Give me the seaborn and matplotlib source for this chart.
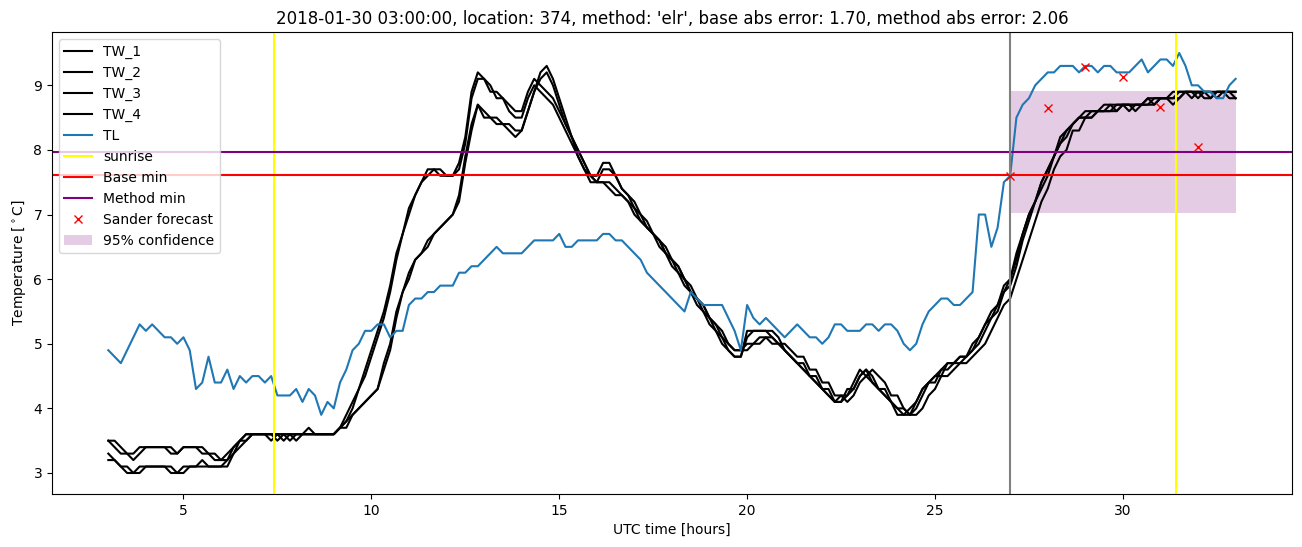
import numpy as np
import pandas as pd
import matplotlib
matplotlib.use("Agg")
import matplotlib.pyplot as plt
import seaborn as sns

# ---------------- data (10-minute samples from 03:00 to 33:00 UTC hours) ----------------
start_hour = 3.0
step_hours = 1 / 6

TL = [
    4.9, 4.8, 4.7, 4.9, 5.1, 5.3,
    5.2, 5.3, 5.2, 5.1, 5.1, 5.0,
    5.1, 4.9, 4.3, 4.4, 4.8, 4.4,
    4.4, 4.6, 4.3, 4.5, 4.4, 4.5,
    4.5, 4.4, 4.5, 4.2, 4.2, 4.2,
    4.3, 4.1, 4.3, 4.2, 3.9, 4.1,
    4.0, 4.4, 4.6, 4.9, 5.0, 5.2,
    5.2, 5.3, 5.3, 5.1, 5.2, 5.2,
    5.6, 5.7, 5.7, 5.8, 5.8, 5.9,
    5.9, 5.9, 6.1, 6.1, 6.2, 6.2,
    6.3, 6.4, 6.5, 6.4, 6.4, 6.4,
    6.4, 6.5, 6.6, 6.6, 6.6, 6.6,
    6.7, 6.5, 6.5, 6.6, 6.6, 6.6,
    6.6, 6.7, 6.7, 6.6, 6.6, 6.5,
    6.4, 6.3, 6.1, 6.0, 5.9, 5.8,
    5.7, 5.6, 5.5, 5.8, 5.7, 5.6,
    5.6, 5.6, 5.6, 5.4, 5.2, 4.9,
    5.6, 5.4, 5.3, 5.4, 5.3, 5.2,
    5.1, 5.2, 5.3, 5.2, 5.1, 5.1,
    5.0, 5.1, 5.3, 5.3, 5.2, 5.2,
    5.2, 5.3, 5.3, 5.2, 5.3, 5.3,
    5.2, 5.0, 4.9, 5.0, 5.3, 5.5,
    5.6, 5.7, 5.7, 5.6, 5.6, 5.7,
    5.8, 7.0, 7.0, 6.5, 6.8, 7.5,
    7.6, 8.5, 8.7, 8.8, 9.0, 9.1,
    9.2, 9.2, 9.3, 9.3, 9.3, 9.2,
    9.3, 9.3, 9.2, 9.3, 9.3, 9.2,
    9.2, 9.2, 9.3, 9.4, 9.2, 9.3,
    9.4, 9.4, 9.3, 9.5, 9.3, 9.0,
    9.0, 8.9, 8.9, 8.8, 8.8, 9.0,
    9.1,
]

TW_1 = [
    3.5, 3.4, 3.3, 3.3, 3.2, 3.3,
    3.4, 3.4, 3.4, 3.4, 3.3, 3.3,
    3.4, 3.4, 3.4, 3.3, 3.3, 3.2,
    3.2, 3.3, 3.4, 3.5, 3.6, 3.6,
    3.6, 3.6, 3.5, 3.6, 3.6, 3.5,
    3.6, 3.6, 3.6, 3.6, 3.6, 3.6,
    3.6, 3.7, 3.9, 4.1, 4.3, 4.6,
    4.9, 5.2, 5.5, 5.9, 6.4, 6.7,
    7.1, 7.3, 7.5, 7.7, 7.7, 7.6,
    7.6, 7.6, 7.8, 8.2, 8.9, 9.2,
    9.1, 8.9, 8.9, 8.8, 8.7, 8.6,
    8.6, 8.9, 9.1, 9.0, 8.9, 8.8,
    8.6, 8.4, 8.2, 8.0, 7.8, 7.6,
    7.5, 7.5, 7.4, 7.3, 7.3, 7.2,
    7.0, 6.9, 6.8, 6.7, 6.5, 6.4,
    6.2, 6.1, 5.9, 5.8, 5.6, 5.5,
    5.3, 5.2, 5.0, 4.9, 4.8, 4.8,
    5.2, 5.2, 5.2, 5.2, 5.1, 5.0,
    4.9, 4.8, 4.7, 4.6, 4.5, 4.4,
    4.3, 4.2, 4.1, 4.2, 4.2, 4.4,
    4.6, 4.5, 4.4, 4.3, 4.2, 4.1,
    4.0, 3.9, 3.9, 4.1, 4.3, 4.4,
    4.5, 4.6, 4.7, 4.7, 4.8, 4.8,
    4.9, 5.1, 5.3, 5.4, 5.6, 5.8,
    6.0, 6.3, 6.7, 7.0, 7.2, 7.5,
    7.7, 7.9, 8.1, 8.3, 8.4, 8.5,
    8.5, 8.6, 8.6, 8.6, 8.7, 8.7,
    8.7, 8.7, 8.7, 8.7, 8.8, 8.8,
    8.8, 8.8, 8.9, 8.9, 8.9, 8.9,
    8.9, 8.9, 8.9, 8.9, 8.9, 8.9,
    8.9,
]

TW_2 = [
    3.5, 3.5, 3.4, 3.3, 3.3, 3.4,
    3.4, 3.4, 3.4, 3.4, 3.4, 3.3,
    3.4, 3.4, 3.4, 3.4, 3.3, 3.3,
    3.2, 3.2, 3.3, 3.5, 3.5, 3.6,
    3.6, 3.6, 3.6, 3.5, 3.6, 3.6,
    3.5, 3.6, 3.6, 3.6, 3.6, 3.6,
    3.6, 3.7, 3.8, 4.0, 4.3, 4.5,
    4.8, 5.1, 5.4, 5.8, 6.3, 6.7,
    7.0, 7.3, 7.5, 7.6, 7.7, 7.7,
    7.6, 7.6, 7.7, 8.1, 8.8, 9.1,
    9.1, 9.0, 8.8, 8.8, 8.6, 8.5,
    8.5, 8.8, 9.0, 8.9, 8.8, 8.7,
    8.5, 8.3, 8.1, 7.9, 7.7, 7.6,
    7.5, 7.5, 7.5, 7.4, 7.3, 7.2,
    7.1, 6.9, 6.8, 6.7, 6.6, 6.4,
    6.3, 6.1, 6.0, 5.8, 5.7, 5.5,
    5.4, 5.2, 5.1, 4.9, 4.8, 4.8,
    5.1, 5.2, 5.2, 5.2, 5.2, 5.1,
    4.9, 4.8, 4.7, 4.7, 4.5, 4.5,
    4.3, 4.3, 4.1, 4.1, 4.3, 4.3,
    4.5, 4.6, 4.5, 4.3, 4.3, 4.1,
    4.0, 4.0, 3.9, 4.0, 4.2, 4.4,
    4.5, 4.5, 4.7, 4.7, 4.7, 4.8,
    4.9, 5.0, 5.2, 5.4, 5.5, 5.8,
    5.9, 6.2, 6.6, 6.9, 7.2, 7.4,
    7.6, 7.9, 8.1, 8.2, 8.4, 8.5,
    8.5, 8.5, 8.6, 8.6, 8.6, 8.7,
    8.7, 8.6, 8.7, 8.7, 8.8, 8.7,
    8.8, 8.8, 8.8, 8.9, 8.9, 8.8,
    8.9, 8.9, 8.8, 8.9, 8.9, 8.8,
    8.8,
]

TW_3 = [
    3.3, 3.2, 3.1, 3.0, 3.0, 3.1,
    3.1, 3.1, 3.1, 3.1, 3.0, 3.0,
    3.1, 3.1, 3.1, 3.2, 3.1, 3.1,
    3.1, 3.2, 3.4, 3.5, 3.6, 3.6,
    3.6, 3.6, 3.6, 3.6, 3.6, 3.6,
    3.6, 3.6, 3.7, 3.6, 3.6, 3.6,
    3.6, 3.7, 3.8, 3.9, 4.0, 4.1,
    4.2, 4.3, 4.7, 5.0, 5.5, 5.8,
    6.1, 6.3, 6.4, 6.6, 6.7, 6.8,
    6.9, 7.0, 7.3, 7.9, 8.4, 8.7,
    8.6, 8.5, 8.5, 8.4, 8.3, 8.2,
    8.3, 8.6, 8.9, 9.2, 9.3, 9.1,
    8.8, 8.5, 8.2, 8.0, 7.8, 7.6,
    7.6, 7.8, 7.8, 7.6, 7.4, 7.3,
    7.1, 7.0, 6.8, 6.7, 6.6, 6.4,
    6.3, 6.2, 6.0, 5.8, 5.7, 5.6,
    5.4, 5.3, 5.2, 5.0, 4.9, 4.9,
    5.0, 5.0, 5.1, 5.1, 5.0, 5.0,
    4.9, 4.8, 4.7, 4.6, 4.5, 4.4,
    4.3, 4.2, 4.1, 4.1, 4.2, 4.3,
    4.5, 4.6, 4.4, 4.3, 4.2, 4.1,
    3.9, 3.9, 4.0, 4.1, 4.3, 4.4,
    4.4, 4.6, 4.6, 4.7, 4.8, 4.8,
    5.0, 5.1, 5.3, 5.5, 5.6, 5.9,
    6.0, 6.4, 6.7, 7.0, 7.2, 7.5,
    7.7, 7.9, 8.2, 8.3, 8.4, 8.5,
    8.6, 8.6, 8.6, 8.7, 8.7, 8.6,
    8.7, 8.7, 8.6, 8.7, 8.7, 8.8,
    8.8, 8.8, 8.8, 8.8, 8.9, 8.9,
    8.8, 8.9, 8.9, 8.8, 8.9, 8.9,
    8.8,
]

TW_4 = [
    3.2, 3.2, 3.1, 3.1, 3.0, 3.0,
    3.1, 3.1, 3.1, 3.1, 3.1, 3.0,
    3.0, 3.1, 3.1, 3.1, 3.1, 3.1,
    3.1, 3.1, 3.3, 3.4, 3.5, 3.6,
    3.6, 3.6, 3.6, 3.6, 3.5, 3.6,
    3.6, 3.6, 3.6, 3.6, 3.6, 3.6,
    3.6, 3.7, 3.7, 3.9, 4.0, 4.1,
    4.2, 4.3, 4.6, 4.9, 5.4, 5.8,
    6.0, 6.3, 6.4, 6.5, 6.7, 6.8,
    6.9, 7.0, 7.2, 7.8, 8.3, 8.7,
    8.5, 8.5, 8.4, 8.4, 8.4, 8.3,
    8.3, 8.6, 8.9, 9.1, 9.2, 9.0,
    8.7, 8.4, 8.2, 7.9, 7.7, 7.5,
    7.5, 7.7, 7.7, 7.6, 7.4, 7.3,
    7.2, 7.0, 6.9, 6.7, 6.6, 6.5,
    6.3, 6.2, 6.0, 5.9, 5.7, 5.6,
    5.4, 5.3, 5.1, 5.0, 4.9, 4.9,
    4.9, 5.0, 5.0, 5.1, 5.1, 5.0,
    5.0, 4.9, 4.8, 4.8, 4.6, 4.6,
    4.4, 4.4, 4.2, 4.2, 4.1, 4.2,
    4.4, 4.5, 4.6, 4.5, 4.4, 4.2,
    4.2, 4.0, 3.9, 3.9, 4.0, 4.2,
    4.3, 4.5, 4.5, 4.6, 4.7, 4.7,
    4.8, 4.9, 5.0, 5.2, 5.4, 5.6,
    5.7, 6.0, 6.3, 6.6, 6.9, 7.2,
    7.4, 7.7, 7.9, 8.0, 8.3, 8.3,
    8.5, 8.5, 8.6, 8.6, 8.6, 8.6,
    8.7, 8.7, 8.7, 8.7, 8.7, 8.7,
    8.8, 8.8, 8.7, 8.8, 8.9, 8.9,
    8.9, 8.8, 8.8, 8.9, 8.9, 8.9,
    8.9,
]

sunrise_hours = [7.42, 31.41]
forecast_start = 27.0
base_min = 7.61
method_min = 7.97
sander_hours = [27, 28, 29, 30, 31, 32]
sander_values = [7.60, 8.65, 9.29, 9.13, 8.66, 8.05]
conf_hours = [27.0, 33.0]
conf_low = 7.03
conf_high = 8.91

title = ("2018-01-30 03:00:00, location: 374, method: 'elr', "
         "base abs error: 1.70, method abs error: 2.06")

# ---------------- plotting ----------------
series = {"TW_1": TW_1, "TW_2": TW_2, "TW_3": TW_3, "TW_4": TW_4, "TL": TL}
colors = {"TW_1": "black", "TW_2": "black", "TW_3": "black", "TW_4": "black",
          "TL": "#1f77b4"}

fig = plt.figure(figsize=(13.02, 5.47), dpi=100)
ax = fig.add_axes([0.0399, 0.0969, 0.9524, 0.8446])

for name, vals in series.items():
    hours = start_hour + step_hours * np.arange(len(vals))
    df = pd.DataFrame({"hour": hours, "value": vals})
    sns.lineplot(data=df, x="hour", y="value", color=colors[name],
                 linewidth=1.5, label=name, ax=ax, legend=False)

ax.axvline(sunrise_hours[0], color="yellow", linewidth=1.5, label="sunrise")
ax.axvline(sunrise_hours[1], color="yellow", linewidth=1.5, label="_nolegend_")
ax.axhline(base_min, color="red", linewidth=1.5, label="Base min")
ax.axhline(method_min, color="purple", linewidth=1.5, label="Method min")
ax.axvline(forecast_start, color="grey", linewidth=1.5, label="_nolegend_")

sns.lineplot(x=sander_hours, y=sander_values, marker="x", linestyle="",
             color="red", markersize=6, markeredgecolor="red",
             markeredgewidth=1.0, label="Sander forecast", ax=ax, legend=False)

ax.fill_between(conf_hours, conf_low, conf_high, color="purple", alpha=0.2,
                linewidth=0, label="95% confidence")

ax.set_xlim(1.5, 34.5)
ax.set_ylim(2.675, 9.825)
ax.set_xlabel("UTC time [hours]")
ax.set_ylabel("Temperature [$^\\circ$C]")
ax.set_title(title)
ax.legend(loc="upper left")

fig.savefig("out.png", dpi=100)
